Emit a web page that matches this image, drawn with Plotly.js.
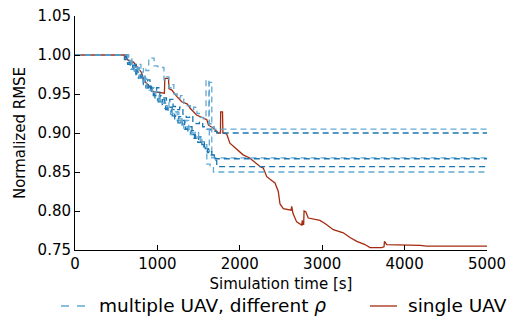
<!DOCTYPE html>
<html>
<head>
<meta charset="utf-8">
<script src="https://cdn.plot.ly/plotly-3.0.1.min.js"></script>
<style>
  html, body { margin: 0; padding: 0; background: #fff; }
  #chart { width: 507px; height: 320px; }
</style>
</head>
<body>
<div id="chart"></div>
<script>
// Normalized RMSE over simulation time [s]

// Single UAV run
const singleTime = [0, 600, 635, 710, 740, 810, 830, 870, 910, 950, 1010, 1055, 1085, 1090, 1135, 1140, 1175, 1235, 1295, 1365, 1395, 1475, 1600, 1620, 1680, 1740, 1765, 1768, 1790, 1795, 1840, 1880, 1960, 2040, 2120, 2245, 2285, 2327, 2387, 2427, 2467, 2488, 2528, 2609, 2622, 2630, 2645, 2690, 2730, 2743, 2752, 2758, 2764, 2775, 2780, 2800, 2831, 2973, 3034, 3135, 3256, 3337, 3420, 3519, 3580, 3722, 3750, 3756, 3783, 4187, 4268, 5000];
const singleRmse = [1.000, 1.000, 0.994, 0.991, 0.987, 0.977, 0.968, 0.964, 0.959, 0.953, 0.952, 0.951, 0.951, 0.970, 0.970, 0.957, 0.955, 0.947, 0.940, 0.937, 0.932, 0.923, 0.917, 0.910, 0.906, 0.900, 0.900, 0.927, 0.927, 0.900, 0.899, 0.887, 0.880, 0.872, 0.868, 0.857, 0.855, 0.844, 0.839, 0.836, 0.825, 0.809, 0.803, 0.801, 0.801, 0.806, 0.797, 0.786, 0.783, 0.782, 0.782, 0.788, 0.783, 0.783, 0.800, 0.799, 0.791, 0.788, 0.784, 0.776, 0.772, 0.766, 0.761, 0.757, 0.753, 0.753, 0.754, 0.761, 0.757, 0.756, 0.755, 0.755];

// Multiple UAV runs, one per value of rho (step-wise updates)
const multiTimeA = [0, 650, 690, 730, 760, 800, 830, 860, 895, 960, 1000, 1050, 1080, 1110, 1140, 1170, 1200, 1240, 1280, 1320, 1360, 1400, 1440, 1480, 1520, 1560, 1590, 1625, 1650, 1690, 5000];
const multiRmseA = [1.000, 0.996, 0.990, 0.984, 0.988, 0.978, 0.984, 0.980, 0.996, 0.986, 0.985, 0.984, 0.968, 0.972, 0.958, 0.962, 0.950, 0.945, 0.948, 0.938, 0.935, 0.930, 0.933, 0.925, 0.920, 0.918, 0.968, 0.912, 0.908, 0.905, 0.905];

const multiTimeB = [0, 620, 660, 700, 730, 760, 790, 820, 850, 880, 910, 950, 990, 1030, 1070, 1110, 1150, 1190, 1230, 1270, 1310, 1350, 1390, 1430, 1470, 1510, 1550, 1600, 1650, 1720, 5000];
const multiRmseB = [1.000, 0.995, 0.990, 0.985, 0.988, 0.978, 0.972, 0.975, 0.965, 0.968, 0.958, 0.955, 0.958, 0.948, 0.945, 0.940, 0.943, 0.934, 0.930, 0.933, 0.924, 0.920, 0.922, 0.915, 0.912, 0.914, 0.908, 0.905, 0.902, 0.900, 0.900];

const multiTimeC = [0, 650, 690, 720, 750, 780, 810, 840, 870, 900, 930, 960, 1000, 1040, 1080, 1120, 1160, 1200, 1240, 1280, 1320, 1360, 1400, 1440, 1480, 1520, 1560, 1600, 1630, 1660, 5000];
const multiRmseC = [1.000, 0.992, 0.985, 0.978, 0.982, 0.972, 0.968, 0.970, 0.958, 0.955, 0.958, 0.948, 0.942, 0.945, 0.935, 0.930, 0.924, 0.927, 0.916, 0.912, 0.905, 0.908, 0.898, 0.893, 0.896, 0.887, 0.882, 0.876, 0.965, 0.868, 0.868];

const multiTimeD = [0, 630, 670, 700, 740, 770, 800, 830, 860, 890, 920, 950, 990, 1030, 1060, 1100, 1140, 1180, 1220, 1260, 1300, 1340, 1380, 1420, 1460, 1500, 1540, 1580, 1620, 1660, 1700, 5000];
const multiRmseD = [1.000, 0.990, 0.984, 0.987, 0.976, 0.972, 0.975, 0.965, 0.960, 0.963, 0.952, 0.948, 0.944, 0.947, 0.936, 0.930, 0.933, 0.922, 0.918, 0.921, 0.910, 0.905, 0.908, 0.898, 0.892, 0.895, 0.885, 0.880, 0.876, 0.872, 0.867, 0.867];

const multiTimeE = [0, 600, 640, 680, 710, 740, 770, 800, 830, 860, 890, 930, 970, 1010, 1050, 1090, 1130, 1170, 1210, 1250, 1290, 1330, 1370, 1410, 1450, 1490, 1530, 1570, 1610, 1650, 1690, 1720, 5000];
const multiRmseE = [1.000, 0.994, 0.988, 0.982, 0.985, 0.975, 0.970, 0.972, 0.962, 0.958, 0.961, 0.950, 0.945, 0.940, 0.943, 0.932, 0.927, 0.930, 0.918, 0.913, 0.916, 0.905, 0.900, 0.903, 0.893, 0.888, 0.890, 0.880, 0.875, 0.872, 0.865, 0.857, 0.857];

const multiTimeF = [0, 640, 680, 720, 750, 780, 810, 840, 870, 900, 940, 980, 1020, 1060, 1100, 1140, 1180, 1220, 1260, 1300, 1340, 1380, 1420, 1460, 1500, 1540, 1570, 1600, 1640, 1680, 5000];
const multiRmseF = [1.000, 0.993, 0.985, 0.980, 0.984, 0.970, 0.966, 0.969, 0.958, 0.955, 0.950, 0.953, 0.942, 0.938, 0.940, 0.930, 0.925, 0.927, 0.918, 0.913, 0.916, 0.905, 0.900, 0.902, 0.893, 0.889, 0.885, 0.860, 0.858, 0.850, 0.850];

const xTicks = [0, 1000, 2000, 3000, 4000, 5000];
const yTicks = [0.75, 0.80, 0.85, 0.90, 0.95, 1.00, 1.05];

const legendMulti = 'multiple UAV, different <i>ρ</i>';
const legendSingle = 'single UAV';

const lightBlue = '#62a9d4';
const darkBlue = '#1b76b2';
const red = '#a52a0f';

function multiTrace(x, y, color) {
  return {
    x: x, y: y, type: 'scatter', mode: 'lines',
    line: { color: color, width: 1.3, dash: '6px,4px', shape: 'hv' },
    showlegend: false, hoverinfo: 'skip'
  };
}

const traces = [
  { x: singleTime, y: singleRmse, type: 'scatter', mode: 'lines',
    line: { color: red, width: 1.3 }, showlegend: false, hoverinfo: 'skip' },
  multiTrace(multiTimeA, multiRmseA, lightBlue),
  multiTrace(multiTimeB, multiRmseB, darkBlue),
  multiTrace(multiTimeC, multiRmseC, lightBlue),
  multiTrace(multiTimeD, multiRmseD, darkBlue),
  multiTrace(multiTimeE, multiRmseE, darkBlue),
  multiTrace(multiTimeF, multiRmseF, lightBlue)
];

const font = { family: 'DejaVu Sans, sans-serif', size: 15, color: '#000' };
const legendFont = { family: font.family, size: 18.5, color: '#000' };

const layout = {
  width: 507, height: 320,
  margin: { l: 75, r: 20, t: 16, b: 70 },
  paper_bgcolor: '#fff', plot_bgcolor: '#fff',
  font: font,
  showlegend: false,
  xaxis: {
    range: [0, 5000], tickvals: xTicks, ticktext: xTicks.map(String),
    ticks: 'inside', ticklen: 5, tickwidth: 1, tickcolor: '#000',
    showline: true, linecolor: '#000', linewidth: 1,
    showgrid: false, zeroline: false, mirror: false,
    tickfont: font,
    title: { text: 'Simulation time [s]', font: font, standoff: 6 }
  },
  yaxis: {
    range: [0.75, 1.05], tickvals: yTicks, ticktext: yTicks.map(v => v.toFixed(2)),
    ticks: 'inside', ticklen: 5, tickwidth: 1, tickcolor: '#000',
    showline: true, linecolor: '#000', linewidth: 1,
    showgrid: false, zeroline: false, mirror: false,
    tickfont: font,
    title: { text: 'Normalized RMSE', font: font, standoff: 8 }
  },
  shapes: [
    { type: 'line', xref: 'paper', yref: 'paper', x0: -0.034, x1: 0.0243, y0: -0.2393, y1: -0.2393,
      line: { color: lightBlue, width: 1.3, dash: '8px,8px' } },
    { type: 'line', xref: 'paper', yref: 'paper', x0: 0.716, x1: 0.7816, y0: -0.2393, y1: -0.2393,
      line: { color: red, width: 1.3 } }
  ],
  annotations: [
    { xref: 'paper', yref: 'paper', x: 0.0534, y: -0.237, xanchor: 'left', yanchor: 'middle',
      text: legendMulti, showarrow: false, font: legendFont },
    { xref: 'paper', yref: 'paper', x: 0.803, y: -0.237, xanchor: 'left', yanchor: 'middle',
      text: legendSingle, showarrow: false, font: legendFont }
  ]
};

Plotly.newPlot('chart', traces, layout, { staticPlot: true, displayModeBar: false });
</script>
</body>
</html>
